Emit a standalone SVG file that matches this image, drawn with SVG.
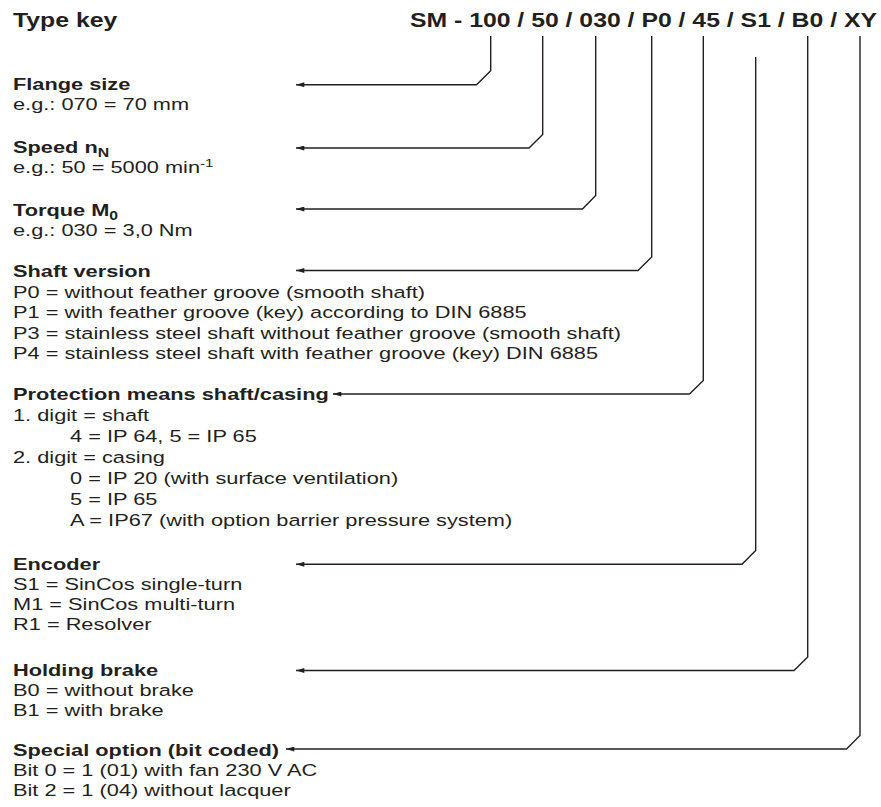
<svg xmlns="http://www.w3.org/2000/svg" width="881" height="807" viewBox="0 0 881 807">
<style>
text{font-family:"Liberation Sans",Arial,Helvetica,sans-serif;fill:#231f20}
.t{font-size:20px;font-weight:bold}
.h{font-size:16.5px;font-weight:bold}
.b{font-size:16.5px}
.c{fill:none;stroke:#231f20;stroke-width:1.4;marker-end:url(#ah)}
</style>
<defs>
<marker id="ah" viewBox="0 0 10 6" refX="10" refY="3" markerWidth="9" markerHeight="5" markerUnits="userSpaceOnUse" orient="auto">
<path d="M0,0 L10,3 L0,6 z" fill="#231f20"/>
</marker>
</defs>
<rect width="881" height="807" fill="#fff"/>
<g id="connectors">
<path class="c" d="M490.7,36 V70.7 L476.5,84.7 H296"/>
<path class="c" d="M542.7,36 V134.5 L529,148 H296"/>
<path class="c" d="M595.7,36 V195.5 L582.5,209 H296"/>
<path class="c" d="M651.7,36 V257 L638,270.5 H296"/>
<path class="c" d="M703.3,36 V380.5 L689.5,394 H333"/>
<path class="c" d="M755.7,57 V550.5 L742,564.3 H296"/>
<path class="c" d="M807.7,36 V657 L794,670.5 H296"/>
<path class="c" d="M860,36 V735.5 L846.5,749 H286"/>
</g>
<g transform="scale(1.24,1)">
<g id="title"><text class="t" x="10.48" y="27">Type key</text></g>
<g id="code"><text class="t" x="707.26" y="27" text-anchor="end">SM - 100 / 50 / 030 / P0 / 45 / S1 / B0 / XY</text></g>
</g>
<g transform="scale(1.32,1)">
<g id="flange">
<text class="h" x="9.85" y="90">Flange size</text>
<text class="b" x="9.85" y="110">e.g.: 070 = 70 mm</text>
</g>
<g id="speed">
<text class="h" x="9.85" y="153.5">Speed n<tspan font-size="12px" dy="4">N</tspan></text>
<text class="b" x="9.85" y="173.5">e.g.: 50 = 5000 min<tspan font-size="11.5px" dy="-6">-1</tspan></text>
</g>
<g id="torque">
<text class="h" x="9.85" y="216">Torque M<tspan font-size="12px" dy="4">0</tspan></text>
<text class="b" x="9.85" y="236">e.g.: 030 = 3,0 Nm</text>
</g>
<g id="shaft">
<text class="h" x="9.85" y="277">Shaft version</text>
<text class="b" x="9.85" y="298">P0 = without feather groove (smooth shaft)</text>
<text class="b" x="9.85" y="318.5">P1 = with feather groove (key) according to DIN 6885</text>
<text class="b" x="9.85" y="339">P3 = stainless steel shaft without feather groove (smooth shaft)</text>
<text class="b" x="9.85" y="359.5">P4 = stainless steel shaft with feather groove (key) DIN 6885</text>
</g>
<g id="protection">
<text class="h" x="9.85" y="400">Protection means shaft/casing</text>
<text class="b" x="9.85" y="421">1. digit = shaft</text>
<text class="b" x="53.03" y="442">4 = IP 64, 5 = IP 65</text>
<text class="b" x="9.85" y="463">2. digit = casing</text>
<text class="b" x="53.03" y="484">0 = IP 20 (with surface ventilation)</text>
<text class="b" x="53.03" y="505">5 = IP 65</text>
<text class="b" x="53.03" y="526">A = IP67 (with option barrier pressure system)</text>
</g>
<g id="encoder">
<text class="h" x="9.85" y="570">Encoder</text>
<text class="b" x="9.85" y="590">S1 = SinCos single-turn</text>
<text class="b" x="9.85" y="610">M1 = SinCos multi-turn</text>
<text class="b" x="9.85" y="630">R1 = Resolver</text>
</g>
<g id="brake">
<text class="h" x="9.85" y="676">Holding brake</text>
<text class="b" x="9.85" y="696">B0 = without brake</text>
<text class="b" x="9.85" y="716">B1 = with brake</text>
</g>
<g id="special">
<text class="h" x="9.85" y="756">Special option (bit coded)</text>
<text class="b" x="9.85" y="776">Bit 0 = 1 (01) with fan 230 V AC</text>
<text class="b" x="9.85" y="796">Bit 2 = 1 (04) without lacquer</text>
</g>
</g>
</svg>
